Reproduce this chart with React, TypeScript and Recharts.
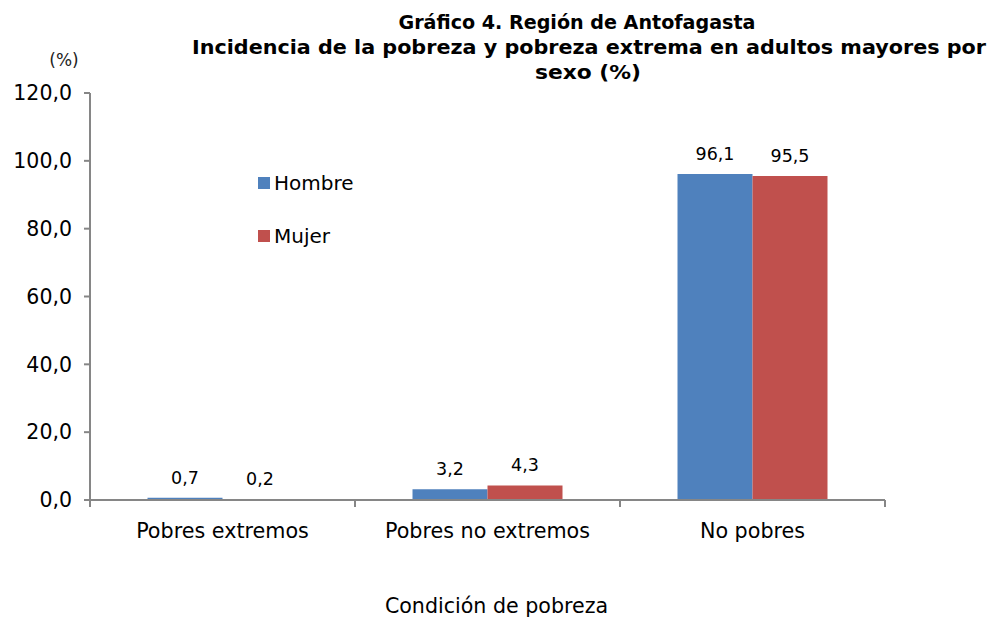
import { BarChart, Bar, XAxis, YAxis, Legend, LabelList } from "recharts";

const categories = ["Pobres extremos", "Pobres no extremos", "No pobres"];
const hombre = [0.7, 3.2, 96.1];
const mujer = [0.2, 4.3, 95.5];
const yTicks = [0, 20, 40, 60, 80, 100, 120];

const titleLines = [
  "Gráfico 4. Región de Antofagasta",
  "Incidencia de la pobreza y pobreza extrema en adultos mayores por",
  "sexo (%)",
];

const data = categories.map((name, i) => ({ name, hombre: hombre[i], mujer: mujer[i] }));

const FONT = "'DejaVu Sans', Verdana, sans-serif";
const AXIS = "#868686";
const BLUE = "#4F81BD";
const RED = "#C0504D";

const fmt = (v: number) => v.toFixed(1).replace(".", ",");

function CategoryTick(props: any) {
  const { x, y, payload, index, visibleTicksCount } = props;
  const half = payload?.offset ?? 132.5;
  const axisY = y - 17;
  return (
    <g>
      <line x1={x - half} x2={x - half} y1={axisY - 6} y2={axisY + 1} stroke={AXIS} strokeWidth={2} />
      {index === visibleTicksCount - 1 && (
        <line x1={x + half} x2={x + half} y1={axisY - 6} y2={axisY + 1} stroke={AXIS} strokeWidth={2} />
      )}
      <text x={x} y={y} dy="0.71em" textAnchor="middle" fill="#000" fontSize={20.7} fontFamily={FONT}>
        {payload.value}
      </text>
    </g>
  );
}

function LegendBox() {
  const items = [
    { label: "Hombre", color: BLUE },
    { label: "Mujer", color: RED },
  ];
  return (
    <div style={{ fontFamily: FONT, fontSize: 20 }}>
      {items.map((it) => (
        <div key={it.label} style={{ display: "flex", alignItems: "center", height: 53 }}>
          <span style={{ width: 12, height: 12, background: it.color, marginRight: 4 }} />
          <span>{it.label}</span>
        </div>
      ))}
    </div>
  );
}

export default function App() {
  return (
    <div style={{ position: "absolute", left: 0, top: 0, width: 993, height: 623, background: "#fff" }}>
      <svg width={993} height={100} style={{ position: "absolute", left: 0, top: 0 }}>
        <text x={577} y={29} textAnchor="middle" fontFamily={FONT} fontWeight="bold" fontSize={19.5} textLength={357} lengthAdjust="spacingAndGlyphs">
          {titleLines[0]}
        </text>
        <text x={589} y={54} textAnchor="middle" fontFamily={FONT} fontWeight="bold" fontSize={19.5} textLength={794} lengthAdjust="spacingAndGlyphs">
          {titleLines[1]}
        </text>
        <text x={588} y={79} textAnchor="middle" fontFamily={FONT} fontWeight="bold" fontSize={19.5} textLength={106} lengthAdjust="spacingAndGlyphs">
          {titleLines[2]}
        </text>
        <text x={64} y={66} textAnchor="middle" fontFamily={FONT} fontSize={17} fill="#222">
          (%)
        </text>
      </svg>
      <BarChart
        width={993}
        height={623}
        data={data}
        margin={{ top: 93, right: 108, left: 10, bottom: 8 }}
        barCategoryGap="21.7%"
        barGap={0}
        style={{ position: "absolute", left: 0, top: 0 }}
      >
        <XAxis
          dataKey="name"
          height={115}
          stroke={AXIS}
          strokeWidth={2}
          tickLine={false}
          tickSize={6}
          tickMargin={17}
          tick={<CategoryTick />}
          interval={0}
          label={{
            value: "Condición de pobreza",
            position: "insideBottom",
            offset: 2,
            dx: 9,
            fill: "#000",
            fontSize: 20.6,
            fontFamily: FONT,
          }}
        />
        <YAxis
          width={80}
          domain={[0, 120]}
          ticks={yTicks}
          tickFormatter={fmt}
          stroke={AXIS}
          strokeWidth={2}
          tickSize={6}
          tickMargin={12}
          tick={{ fill: "#000", fontSize: 20.5, fontFamily: FONT }}
          interval={0}
        />
        <Legend
          content={<LegendBox />}
          layout="vertical"
          verticalAlign="middle"
          align="center"
          wrapperStyle={{ left: 258, top: 156, width: 120 }}
        />
        <Bar dataKey="hombre" name="Hombre" fill={BLUE} isAnimationActive={false}>
          <LabelList dataKey="hombre" position="top" offset={14} formatter={(v: any) => fmt(Number(v))} fill="#000" fontSize={17.5} fontFamily={FONT} />
        </Bar>
        <Bar dataKey="mujer" name="Mujer" fill={RED} isAnimationActive={false}>
          <LabelList dataKey="mujer" position="top" offset={14} formatter={(v: any) => fmt(Number(v))} fill="#000" fontSize={17.5} fontFamily={FONT} />
        </Bar>
      </BarChart>
    </div>
  );
}
